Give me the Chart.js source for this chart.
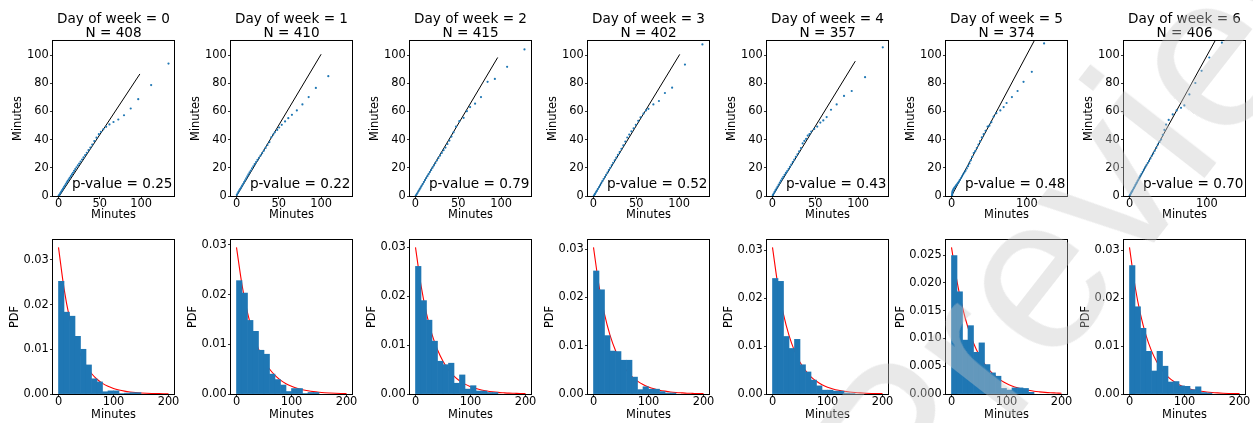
<!DOCTYPE html>
<html>
<head>
<meta charset="utf-8">
<script src="https://cdn.jsdelivr.net/npm/chart.js@4.4.0/dist/chart.umd.min.js"></script>
<style>
  body { margin: 0; background: #fff; width: 1253px; height: 423px; overflow: hidden; position: relative; }
  canvas { position: absolute; }
  #mark {
    position: absolute; left: 917px; top: 360px; margin: 0;
    font: 220px 'Liberation Sans', sans-serif; line-height: 1; white-space: nowrap;
    color: rgba(200, 200, 200, 0.4);
    transform-origin: 0 186px; transform: rotate(-52deg);
    pointer-events: none; z-index: 5;
  }
</style>
</head>
<body>
<div id="mark">Preview</div>
<script>
// waiting times per day of week: QQ plots on top, histograms + fitted exponential PDF below
const days = [0, 1, 2, 3, 4, 5, 6];
const counts = [408, 410, 415, 402, 357, 374, 406];
const pValues = [0.25, 0.22, 0.79, 0.52, 0.43, 0.48, 0.70];

// sample vs theoretical quantiles, minutes
const qqPoints = [
  [[0.3,0.3],[1.2,1],[2.2,2],[3.3,3.1],[4.4,4.1],[5.5,5.2],[6.6,6.3],[7.7,7.4],[8.9,8.5],[10,9.6],[11.2,10.7],[12.4,11.8],[13.6,12.9],[14.9,14.1],[16.2,15.3],[17.5,16.5],[18.9,17.8],[20.3,19.1],[21.8,20.4],[23.4,21.7],[25,23],[26.7,24.4],[28.5,25.9],[30.3,27.4],[32.2,29],[34.2,30.7],[36.3,32.5],[38.5,34.4],[40.8,36.5],[43.3,39],[46,41.4],[48.8,43.9],[51.3,45.6],[54.2,47.3],[57.6,49.1],[61.6,50.8],[66.5,52.5],[72.3,54.3],[79.2,57.3],[87.3,62.1],[96.4,68.7],[112,78.7],[133,94]],
  [[0.4,0.8],[1.3,1.9],[2.3,3],[3.3,4],[4.4,5],[5.5,6.1],[6.6,7.3],[7.8,8.5],[9,9.8],[10.2,11.1],[11.5,12.5],[12.8,13.9],[14.1,15.3],[15.5,16.7],[16.9,18.1],[18.4,19.6],[19.9,21.1],[21.5,22.6],[23.1,24.1],[24.8,25.6],[26.6,27.1],[28.4,28.7],[30.3,30.4],[32.3,32.2],[34.4,34.1],[36.6,36.2],[38.9,38.3],[41.1,41.7],[43.4,43.6],[45.3,45.2],[48.1,46.9],[50.4,48.6],[53.5,50.5],[57.4,52.9],[61.2,55.2],[65.5,57.6],[71.3,60.7],[77.9,65],[85.3,70.2],[93.8,76.7],[108.5,85]],
  [[0.4,0.2],[1.4,1.2],[2.5,2.3],[3.6,3.5],[4.8,4.7],[6,5.9],[7.2,7.2],[8.5,8.5],[9.8,9.9],[11.1,11.3],[12.5,12.7],[13.9,14.1],[15.3,15.5],[16.8,17],[18.3,18.5],[19.9,20.1],[21.5,21.7],[23.2,23.4],[25,25.2],[26.8,26.9],[28.7,28.7],[30.7,30.6],[32.8,32.5],[35,34.4],[37.3,36.9],[39.6,39.3],[42,42.2],[44.5,45.2],[47.3,49.3],[51.2,53.1],[56.2,55.5],[60,60.2],[63.8,63.1],[69.6,65.5],[76.5,70.2],[84.2,81],[92.7,83.1],[107,91.7],[127.3,104]],
  [[0.5,0.3],[1.6,1.3],[2.7,2.4],[3.9,3.6],[5.1,4.9],[6.4,6.2],[7.7,7.6],[9,9],[10.4,10.5],[11.8,12],[13.3,13.5],[14.8,15],[16.4,16.6],[18,18.3],[19.6,20],[21.3,21.8],[23,23.6],[24.8,25.3],[26.7,27.2],[28.6,29.2],[30.6,31.2],[32.7,33.5],[34.9,35.9],[37.2,38.6],[39.5,41.5],[41.8,43.6],[44.3,45.9],[46.9,48],[49.5,50.5],[52.3,53.4],[55,55.9],[58.5,58.5],[61.4,60.7],[64.2,61.9],[70,65],[76.5,67.4],[83.5,73.1],[91.9,76.9],[106.9,93.3],[127.3,107.6]],
  [[0.4,0.6],[1.4,1.7],[2.5,2.9],[3.6,4.1],[4.8,5.4],[6,6.7],[7.3,8.1],[8.6,9.5],[9.9,10.9],[11.3,12.3],[12.7,13.6],[14.2,15],[15.7,16.4],[17.2,17.6],[18.8,19.1],[20.4,20.6],[22,22.3],[23.7,24],[25.5,25.8],[27.3,27.7],[29.2,29.6],[31.2,31.6],[33.3,34],[35.3,37.3],[37.3,39.1],[39.3,40.5],[41.2,42.9],[43.2,43.9],[45.3,45.7],[48.8,47.6],[52.3,49.3],[55.9,52.1],[59.4,53.6],[63.3,56],[68.4,61.2],[75,65],[83.6,71],[92.6,74.5],[108.2,84.3],[128.9,105.5]],
  [[0.8,0.4],[0.9,1.2],[1,2],[1.2,2.9],[1.6,3.7],[2.3,4.5],[3.1,5.2],[4,5.9],[5,6.7],[6.1,7.5],[7.2,8.3],[8.4,9.2],[9.7,10.2],[11,11.3],[12.4,12.6],[13.9,13.9],[15.4,15.3],[17,16.6],[18.6,17.9],[20.3,19.5],[22,21.2],[23.8,23.1],[25.6,25.3],[27.5,27.8],[29.5,30.5],[31.5,31.8],[33.6,34],[35.8,36.5],[38,38.9],[40.3,41.6],[42.7,43.9],[45.2,46.3],[47.9,49.3],[50.3,49.9],[52.9,52.4],[56,56.4],[59.5,58.8],[64.8,60.7],[69.2,63.1],[73.1,66],[80.2,70.2],[87.7,74.5],[95.6,81],[106.6,88.1],[122.9,108.3]],
  [[0.3,0.3],[1,1],[1.8,1.9],[2.7,2.7],[3.6,3.6],[4.6,4.6],[5.6,5.6],[6.7,6.7],[7.8,7.9],[9,9.1],[10.2,10.4],[11.5,11.7],[12.8,13],[14.2,14.4],[15.6,15.8],[17.1,17.2],[18.6,18.7],[20.2,20.3],[21.8,21.8],[23.5,23.4],[25.2,24.8],[27,26.6],[28.8,28.5],[30.7,30.2],[32.6,32.1],[34.6,34.2],[36.6,36.5],[38.7,38.4],[40.8,40.1],[43,43.4],[45.1,46.9],[47.2,50.7],[50.6,54],[55.8,57.9],[60.9,60.7],[66.5,62.6],[70.8,64.3],[77.3,72.1],[85,80.2],[93.1,88.8],[103,98.3],[119.3,108.8]]
];
// reference line end points
const qqLines = [
  [[1, 0], [98.4, 86.6]],
  [[0, 0], [100, 100.6]],
  [[0, 0], [96, 98.3]],
  [[0, 0], [100.8, 100.5]],
  [[0, 0], [96.8, 95.7]],
  [[0, 0], [125, 125.4]],
  [[0, 0], [125, 124.6]]
];
const qqXRange = [[-6.65, 139.65], [-6.5, 136.5], [-6.4, 134.9], [-6.4, 135], [-6.4, 135], [-7.3, 153.3], [-7.1, 149.1]];
const qqXTicks = [[0, 50, 100], [0, 50, 100], [0, 50, 100], [0, 50, 100], [0, 50, 100], [0, 100], [0, 100]];
const qqYTicks = [0, 20, 40, 60, 80, 100];

// 10-minute bins
const binCenters = [5, 15, 25, 35, 45, 55, 65, 75, 85, 95, 105, 115, 125, 135, 145];
const histDensity = [
  [0.0252, 0.0183, 0.0174, 0.0129, 0.0100, 0.0065, 0.0034, 0.0027, 0.0005, 0.0007, 0.0007, 0.0001, 0.0002, 0.0003, 0.0003],
  [0.0228, 0.0203, 0.0148, 0.0126, 0.0088, 0.0080, 0.0040, 0.0029, 0.0018, 0.0005, 0.0011, 0.0011, 0.0001, 0.0003, 0.0003],
  [0.0261, 0.0191, 0.0151, 0.0108, 0.0067, 0.0060, 0.0063, 0.0022, 0.0039, 0.0010, 0.0017, 0.0006, 0.0006, 0.0003, 0.0003],
  [0.0255, 0.0216, 0.0121, 0.0089, 0.0088, 0.0070, 0.0070, 0.0035, 0.0009, 0.0015, 0.0010, 0.0010, 0.0005, 0.0002, 0.0002],
  [0.0241, 0.0235, 0.0120, 0.0095, 0.0114, 0.0061, 0.0046, 0.0029, 0.0017, 0.0008, 0.0008, 0.0006, 0.0006, 0.0002, 0.0001],
  [0.0249, 0.0184, 0.0097, 0.0123, 0.0075, 0.0092, 0.0053, 0.0038, 0.0032, 0.0010, 0.0007, 0.0011, 0.0011, 0.0010, 0.0003],
  [0.0268, 0.0182, 0.0137, 0.0089, 0.0048, 0.0089, 0.0058, 0.0025, 0.0026, 0.0017, 0.0016, 0.0009, 0.0015, 0.0003, 0.0002]
];
// fitted exponential density sampled every 10 minutes
const pdfX = [0, 10, 20, 30, 40, 50, 60, 70, 80, 90, 100, 110, 120, 130, 140, 150, 160, 170, 180, 190, 200];
const pdfFit = [
  [0.0328, 0.02363, 0.01702, 0.01226, 0.00883, 0.00636, 0.00458, 0.0033, 0.00238, 0.00171, 0.00123, 0.00089, 0.00064, 0.00046, 0.00033, 0.00024, 0.00017, 0.00012, 0.00009, 0.00006, 0.00005],
  [0.0295, 0.02196, 0.01635, 0.01217, 0.00906, 0.00675, 0.00502, 0.00374, 0.00278, 0.00207, 0.00154, 0.00115, 0.00086, 0.00064, 0.00047, 0.00035, 0.00026, 0.0002, 0.00015, 0.00011, 0.00008],
  [0.0300, 0.02222, 0.01646, 0.0122, 0.00904, 0.00669, 0.00496, 0.00367, 0.00272, 0.00202, 0.00149, 0.00111, 0.00082, 0.00061, 0.00045, 0.00033, 0.00025, 0.00018, 0.00014, 0.0001, 0.00007],
  [0.0304, 0.02243, 0.01655, 0.01221, 0.00901, 0.00665, 0.00491, 0.00362, 0.00267, 0.00197, 0.00146, 0.00107, 0.00079, 0.00059, 0.00043, 0.00032, 0.00024, 0.00017, 0.00013, 0.00009, 0.00007],
  [0.0306, 0.02253, 0.01659, 0.01222, 0.009, 0.00663, 0.00488, 0.00359, 0.00265, 0.00195, 0.00143, 0.00106, 0.00078, 0.00057, 0.00042, 0.00031, 0.00023, 0.00017, 0.00012, 0.00009, 0.00007],
  [0.0264, 0.02028, 0.01557, 0.01196, 0.00918, 0.00705, 0.00542, 0.00416, 0.00319, 0.00245, 0.00188, 0.00145, 0.00111, 0.00085, 0.00066, 0.0005, 0.00039, 0.0003, 0.00023, 0.00018, 0.00013],
  [0.0306, 0.02253, 0.01659, 0.01222, 0.009, 0.00663, 0.00488, 0.00359, 0.00265, 0.00195, 0.00143, 0.00106, 0.00078, 0.00057, 0.00042, 0.00031, 0.00023, 0.00017, 0.00012, 0.00009, 0.00007]
];
const pdfYTicks = [[0, 0.01, 0.02, 0.03], [0, 0.01, 0.02, 0.03], [0, 0.01, 0.02, 0.03], [0, 0.01, 0.02, 0.03],
                   [0, 0.01, 0.02, 0.03], [0, 0.005, 0.01, 0.015, 0.02, 0.025], [0, 0.01, 0.02, 0.03]];
const pdfXTicks = [0, 100, 200];

// ---- layout ----
const FONT = "'DejaVu Sans', sans-serif";
const BLUE = '#1f77b4';
const boxLeft = [53, 231, 410, 588, 767, 946, 1124];
const boxW = 121;
const yAxisW = 56;
const padR = 5;

Chart.defaults.font.family = FONT;
Chart.defaults.color = '#000';

const framePlugin = {
  id: 'frame',
  afterDatasetsDraw(chart) {
    const { ctx, chartArea: a } = chart;
    ctx.save();
    ctx.strokeStyle = '#000';
    ctx.lineWidth = 1;
    ctx.strokeRect(a.left - 0.5, a.top - 0.5, a.right - a.left + 1, a.bottom - a.top + 1);
    ctx.restore();
  }
};

function noteText(text) {
  return {
    id: 'note',
    afterDatasetsDraw(chart) {
      const { ctx, chartArea: a } = chart;
      ctx.save();
      ctx.font = '13.6px ' + FONT;
      ctx.fillStyle = '#000';
      ctx.textAlign = 'right';
      ctx.textBaseline = 'alphabetic';
      ctx.fillText(text, a.right - 1.5, a.bottom - 8.3);
      ctx.restore();
    }
  };
}

function axis(pos, min, max, ticks, fmt, title, size, titlePad) {
  const left = pos === 'left';
  return {
    type: 'linear', position: pos, min, max, offset: false,
    afterBuildTicks: s => { s.ticks = ticks.map(v => ({ value: v })); },
    afterFit: s => { if (left) s.width = size; else s.height = size; },
    ticks: {
      callback: fmt, autoSkip: false, maxRotation: 0,
      font: { family: FONT, size: 11.4 }, color: '#000',
      padding: left ? 1.2 : -1.3
    },
    grid: { drawOnChartArea: false, offset: false, tickLength: 3, color: '#000', lineWidth: 0.8 },
    border: { display: false },
    title: {
      display: true, text: title, color: '#000',
      font: { family: FONT, size: 11.4 },
      padding: left ? { top: titlePad, bottom: 0 } : { top: 0, bottom: titlePad }
    }
  };
}

function makeCanvas(left, top, w, h) {
  const c = document.createElement('canvas');
  c.width = w; c.height = h;
  c.style.left = left + 'px';
  c.style.top = top + 'px';
  document.body.appendChild(c);
  return c;
}

const base = {
  responsive: false,
  animation: false,
  events: []
};

days.forEach((d, i) => {
  const left = boxLeft[i] - yAxisW;
  const w = yAxisW + boxW + padR;

  // QQ plot
  new Chart(makeCanvas(left, 0, w, 222), {
    type: 'scatter',
    data: {
      datasets: [
        {
          data: qqPoints[i].map(p => ({ x: p[0], y: p[1] })),
          pointRadius: 1.1, pointBorderWidth: 0, backgroundColor: BLUE, borderColor: BLUE
        },
        {
          type: 'line',
          data: qqLines[i].map(p => ({ x: p[0], y: p[1] })),
          borderColor: '#000', borderWidth: 1, pointRadius: 0, fill: false
        }
      ]
    },
    options: {
      ...base,
      layout: { padding: { left: 0, right: padR, top: 0, bottom: 0 } },
      plugins: {
        legend: { display: false },
        tooltip: { enabled: false },
        title: {
          display: true, fullSize: false, color: '#000',
          text: ['Day of week = ' + d, 'N = ' + counts[i]],
          font: { family: FONT, size: 13.6, weight: 'normal', lineHeight: 0.98 },
          padding: { top: 13.3, bottom: 1.04 }
        }
      },
      scales: {
        x: axis('bottom', qqXRange[i][0], qqXRange[i][1], qqXTicks[i], v => String(v), 'Minutes', 26, 0),
        y: axis('left', 0, 110, qqYTicks, v => String(v), 'Minutes', yAxisW, 14.2)
      }
    },
    plugins: [framePlugin, noteText('p-value = ' + pValues[i].toFixed(2))]
  });

  // histogram with fitted density
  const yMax = pdfFit[i][0] * 1.05;
  const dec = i === 5 ? 3 : 2;
  new Chart(makeCanvas(left, 226, w, 197), {
    type: 'bar',
    data: {
      datasets: [
        {
          data: binCenters.map((x, k) => ({ x, y: histDensity[i][k] })),
          backgroundColor: BLUE, borderWidth: 0,
          barPercentage: 1, categoryPercentage: 1
        },
        {
          type: 'line',
          data: pdfX.map((x, k) => ({ x, y: pdfFit[i][k] })),
          borderColor: '#ff0000', borderWidth: 1.1, pointRadius: 0, fill: false,
          cubicInterpolationMode: 'monotone'
        }
      ]
    },
    options: {
      ...base,
      layout: { padding: { left: 0, right: padR, top: 14, bottom: 0 } },
      plugins: { legend: { display: false }, tooltip: { enabled: false } },
      scales: {
        x: axis('bottom', -10, 210, pdfXTicks, v => String(v), 'Minutes', 29, 0.7),
        y: axis('left', 0, yMax, pdfYTicks[i], v => v.toFixed(dec), 'PDF', yAxisW, i === 5 ? 4.2 : 11.2)
      }
    },
    plugins: [framePlugin]
  });
});
</script>
</body>
</html>
